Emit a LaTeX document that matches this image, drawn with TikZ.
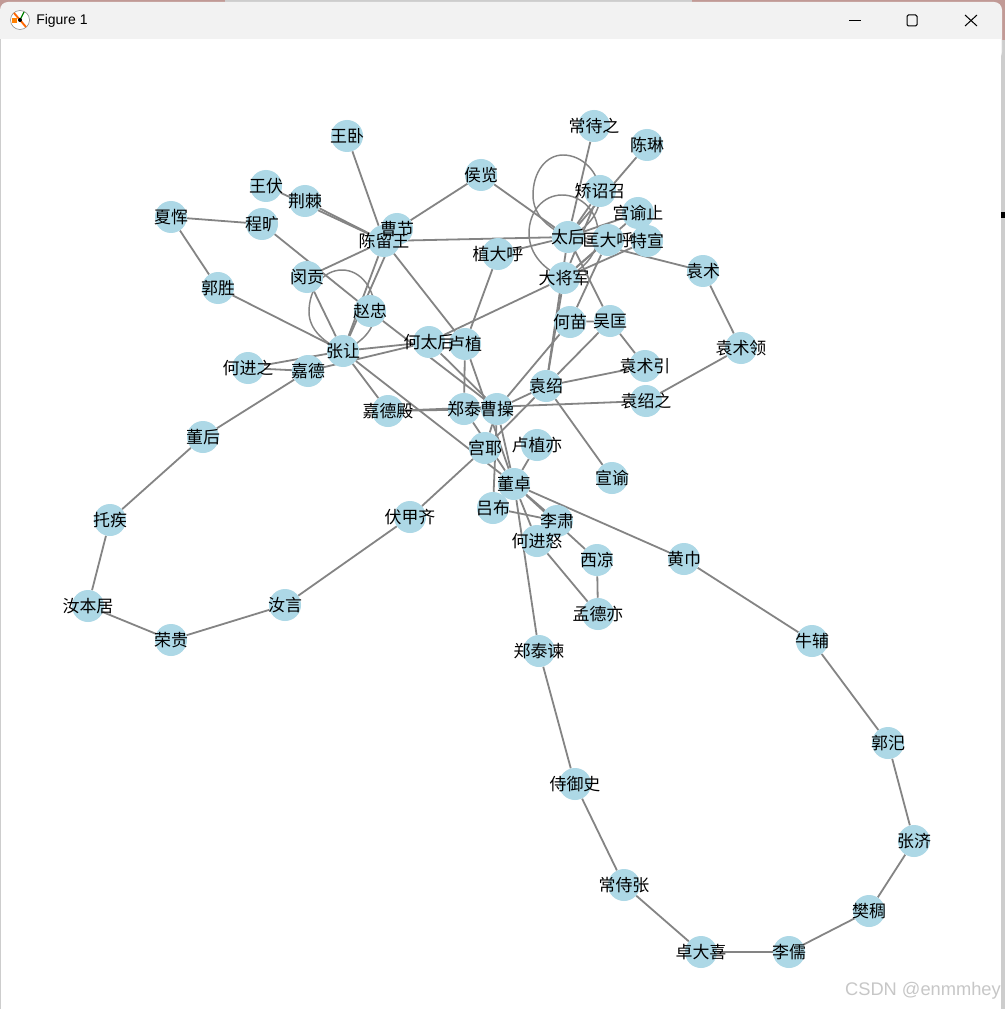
\documentclass[tikz,border=0pt]{standalone}
\usepackage{xcolor}
\usepackage{fontspec}
\setmainfont{Liberation Sans}
\newfontfamily\cjk{Noto Sans CJK SC}
\usepackage{tikz}
\usetikzlibrary{backgrounds}
\definecolor{nodeblue}{RGB}{173,216,230}
\definecolor{edgegray}{RGB}{132,132,132}
\definecolor{barback}{RGB}{242,242,242}
\definecolor{deskpink}{RGB}{193,154,150}
\definecolor{deskgray}{RGB}{205,205,205}
\definecolor{marklight}{RGB}{214,214,214}
\tikzset{
  person/.style={circle, fill=nodeblue, minimum size=24pt, inner sep=0pt},
  nametag/.style={font=\cjk\fontsize{12.7}{13}\selectfont, color=black, inner sep=0pt},
  edge/.style={color=edgegray, line width=1.35pt},
  loopedge/.style={color=edgegray, line width=1.1pt},
  winbtn/.style={color=black, line width=0.75pt}
}
\newcommand{\personlist}{wangwo/347/136/王卧, changshizhi/594/126/常待之, chenlin/647/145/陈琳,
  houlan/481/175/侯览, jiaozhao/600/191/矫诏召, wangfu/266/186/王伏, jingji/305/201/荆棘,
  xiahui/171/217/夏恽, chengkuang/262/224/程旷, caojie/397/229/曹节, gongyu/638/213/宫谕止,
  taihou/568/237/太后, chenliu/384/241/陈留王, kuangda/608/240/匡大呼, texuan/647/241/特宣,
  zhida/498/254/植大呼, yuanshu/703/271/袁术, mingong/307/277/闵贡, dajiang/564/278/大将军,
  guosheng/218/288/郭胜, zhaozhong/370/311/赵忠, hemiao/570/322/何苗, wukuang/610/321/吴匡,
  hetaihou/429/342/何太后, luzhi/465/344/卢植, yuanshuling/741/348/袁术领, zhangrang/343/351/张让,
  hejinzhi/248/368/何进之, jiade/308/371/嘉德, yuanshuyin/645/366/袁术引, yuanshao/546/386/袁绍,
  yuanshaozhi/646/401/袁绍之, zhengtai/464/409/郑泰, caocao/497/409/曹操, jiadedian/388/411/嘉德殿,
  donghou/203/437/董后, luzhiyi/537/445/卢植亦, gongye/485/448/宫耶, xuanyu/612/478/宣谕,
  dongzhuo/514/484/董卓, lvbu/493/508/吕布, fujia/410/517/伏甲齐, tuoji/110/520/托疾,
  lisu/557/521/李肃, hejinnu/537/541/何进怒, xiliang/597/560/西凉, huangjin/684/559/黄巾,
  rubenju/88/606/汝本居, ruyan/285/605/汝言, mengde/598/614/孟德亦, ronggui/171/640/荣贵,
  niufu/812/641/牛辅, zhengtaijian/539/651/郑泰谏, guosi/888/743/郭汜, shiyushi/575/784/侍御史,
  zhangji/914/841/张济, changshizhang/624/885/常侍张, fanchou/869/911/樊稠, zhuodaxi/701/952/卓大喜,
  liru/789/952/李儒}

\begin{document}
\begin{tikzpicture}[x=0.75pt, y=-0.75pt]
  \useasboundingbox (0,0) rectangle (1005,1009);

  % People
  \foreach \name/\px/\py/\word in \personlist
    \node[person] (\name) at (\px,\py) {};

  \begin{pgfonlayer}{background}
    % Window
    \fill[deskpink] (0,0) rectangle (1005,40);
    \fill[deskgray] (225,0) rectangle (692,3);
    \fill[deskgray] (1001,40) rectangle (1005,1009);
    \fill[black] (1001,212) rectangle (1005,218);
    \fill[barback, rounded corners=6pt] (0,2) rectangle (1002,60);
    \fill[deskgray] (0,39) rectangle (1,1009);
    \fill[white] (1,39) rectangle (1001,1009);

    % Edges
    \foreach \a/\b in {wangwo/chenliu, wangfu/chenliu, jingji/chenliu, houlan/caojie, houlan/taihou,
      xiahui/chengkuang, xiahui/guosheng, guosheng/zhangrang, chengkuang/zhaozhong, mingong/chenliu,
      mingong/zhangrang, chenliu/zhangrang, caojie/zhangrang, chenliu/luzhi, chenliu/taihou,
      zhaozhong/caocao, hejinzhi/zhangrang, hejinzhi/jiade, jiade/hetaihou, zhangrang/hetaihou,
      zhangrang/jiadedian, zhangrang/dongzhuo, jiade/donghou, donghou/tuoji, tuoji/rubenju,
      rubenju/ronggui, ronggui/ruyan, ruyan/fujia, fujia/gongye, changshizhi/taihou, chenlin/taihou,
      jiaozhao/taihou, jiaozhao/dajiang, gongyu/taihou, gongyu/dajiang,
      kuangda/dajiang, kuangda/taihou, kuangda/hemiao, texuan/dajiang, taihou/yuanshu, zhida/taihou,
      zhida/luzhi, taihou/wukuang, taihou/yuanshao, dajiang/yuanshao, dajiang/hetaihou, hemiao/wukuang,
      hemiao/caocao, wukuang/yuanshao, wukuang/yuanshuyin, yuanshao/yuanshuyin, yuanshao/caocao,
      yuanshao/gongye, yuanshao/xuanyu, yuanshu/yuanshuling, yuanshuling/yuanshaozhi,
      jiadedian/yuanshaozhi, jiadedian/caocao, hetaihou/caocao, luzhi/zhengtai, luzhi/dongzhuo,
      zhengtai/dongzhuo, caocao/dongzhuo, caocao/gongye, caocao/lvbu, lvbu/lisu, dongzhuo/luzhiyi,
      dongzhuo/lisu, dongzhuo/xiliang, dongzhuo/hejinnu, dongzhuo/huangjin, dongzhuo/zhengtaijian,
      hejinnu/mengde, xiliang/mengde, huangjin/niufu, niufu/guosi, guosi/zhangji, zhangji/fanchou,
      fanchou/liru, liru/zhuodaxi, zhuodaxi/changshizhang, changshizhang/shiyushi, shiyushi/zhengtaijian}
      \draw[edge] (\a) -- (\b);

    % Loops
    \draw[loopedge] (taihou.center) .. controls (548,228) and (533,215) .. (533,195)
      .. controls (533,172) and (546,155) .. (563,155)
      .. controls (582,155) and (600,172) .. (600,195)
      .. controls (600,215) and (585,230) .. (taihou.center);
    \draw[loopedge] (dajiang.center) .. controls (545,270) and (529,255) .. (529,233)
      .. controls (529,212) and (543,195) .. (562,195)
      .. controls (582,195) and (598,212) .. (598,233)
      .. controls (598,255) and (583,270) .. (dajiang.center);
    \draw[loopedge] (zhangrang.center) .. controls (325,343) and (309,330) .. (309,312)
      .. controls (309,289) and (323,270) .. (342,270)
      .. controls (361,270) and (375,289) .. (375,312)
      .. controls (375,330) and (361,343) .. (zhangrang.center);
  \end{pgfonlayer}

  % Names
  \foreach \name/\px/\py/\word in \personlist
    \node[nametag] (\name-tag) at (\px,\py) {\word};

  % Title bar
  \node[font=\fontsize{10.5}{12}\selectfont, inner sep=0pt, anchor=west] (figtitle) at (36,21) {Figure 1};
  \draw[edgegray, line width=0.4pt, fill=white] (20,20) circle (9.5);
  \draw[color=orange!80!red, line width=1.4pt] (14,13) -- (26,27);
  \draw[color=green!50!black, line width=1pt] (24,12) -- (20,20);
  \fill[orange] (12,18) rectangle (17,23);
  \fill[black] (20,20) circle (2);
  \draw[winbtn] (849,20.5) -- (861,20.5);
  \draw[winbtn, rounded corners=1pt] (907,15) rectangle (917,26);
  \draw[winbtn] (965,15) -- (977,26);
  \draw[winbtn] (977,15) -- (965,26);

  % Watermark
  \node[font=\fontsize{13.7}{16}\selectfont, color=black!22, inner sep=0pt, anchor=east] (stamp) at (1001,991) {CSDN @enmmhey};
\end{tikzpicture}
\end{document}
